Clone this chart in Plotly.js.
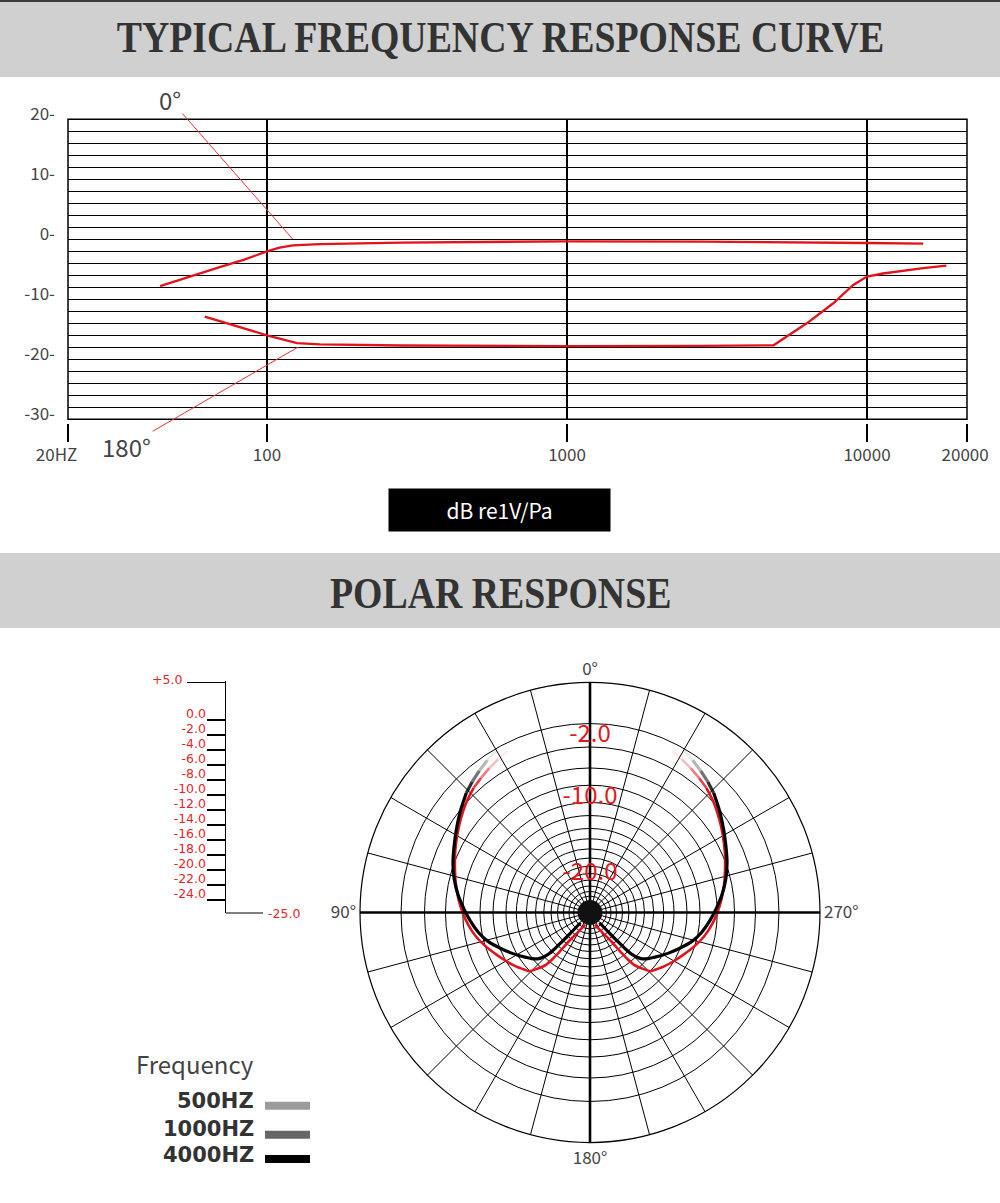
<!DOCTYPE html>
<html><head><meta charset="utf-8">
<script src="https://cdn.plot.ly/plotly-3.0.1.min.js"></script>
<style>html,body{margin:0;padding:0;background:#fff;overflow:hidden}#chart{width:1000px;height:1203px}</style>
</head><body><div id="chart"></div>
<script>
// ---------- Frequency response data ----------
const freq0   = [44, 55, 70, 84, 100, 110, 122, 150, 280, 1000, 2800, 10000, 15400];
const db0     = [-7.8, -6.2, -4.6, -3.4, -2.0, -1.4, -1.0, -0.8, -0.55, -0.33, -0.4, -0.62, -0.73];
const freq180 = [62, 77, 100, 126, 150, 280, 1000, 2800, 4880, 5400, 6300, 7700, 9000, 10000, 11300, 15400, 18400];
const db180   = [-12.9, -14.3, -16.0, -17.3, -17.5, -17.7, -17.8, -17.75, -17.67, -16.2, -14.0, -10.7, -7.6, -6.2, -5.7, -4.8, -4.4];
const freqTickText = ['20HZ', '100', '1000', '10000', '20000'];
const dbTickVals = [-30, -20, -10, 0, 10, 20];
const dbTickText = ['-30-', '-20-', '-10-', '0-', '10-', '20-'];
const callout0   = {f: 122, db: 0, text: '0°'};
const callout180 = {f: 126.6, db: -18, text: '180°'};

// ---------- Polar response data (left half; mirrored) ----------
const blackTheta = [30,34,38,42,46,52,58,64,70,76,82,88,94,100,106,112,117,121,125,128.5,131.5,133.5,135,135.8,136.3,136.7,137];
const blackDb    = [-0.58,-1.05,-1.55,-2.04,-2.57,-3.54,-4.46,-5.28,-5.98,-6.74,-7.59,-8.50,-9.35,-10.20,-11.20,-12.45,-13.40,-14.12,-14.80,-15.33,-15.87,-16.52,-17.30,-18.48,-19.78,-21.35,-23.17];
const redTheta   = [27,31,35,39,43,48,54,60,66,72,78,84,90,96,102,108,114,120,126,131,134,137,140,141,142,144,148,153,158];
const redDb      = [-1.35,-1.71,-2.06,-2.41,-2.76,-3.35,-4.18,-4.98,-5.74,-6.48,-7.11,-7.74,-8.38,-9.07,-9.82,-10.70,-11.59,-12.35,-13.05,-13.65,-13.98,-15.0,-16.13,-17.04,-18.22,-20.57,-21.87,-22.78,-23.30];
const ringDb     = [-0.35,-3.41,-6.15,-8.40,-10.65,-12.35,-14.04,-15.39,-16.69,-17.89,-18.96,-19.91,-20.76,-21.54,-22.26,-22.85];
const spokeDeg   = [0,15,30,45,60,75,90,105,120,135,150,165,180,195,210,225,240,255,270,285,300,315,330,345];
const cardinalText = {0:'0°', 90:'90°', 180:'180°', 270:'270°'};
const polarLabelDb = [-2, -10, -20];
const polarLabelText = ['-2.0', '-10.0', '-20.0'];
const rulerVals = [0,-2,-4,-6,-8,-10,-12,-14,-16,-18,-20,-22,-24];
const rulerText = ['0.0','-2.0','-4.0','-6.0','-8.0','-10.0','-12.0','-14.0','-16.0','-18.0','-20.0','-22.0','-24.0'];
const rulerTop = '+5.0', rulerBottom = '-25.0';
const legendLabels = ['500HZ', '1000HZ', '4000HZ'];
const legendColors = ['#9b9b9b', '#666666', '#000000'];

// ---------- helpers ----------
const W = 1000, H = 1203;
const px = x => x / W;
const py = y => 1 - y / H;
const SANS = "'Noto Sans CJK SC', 'Noto Sans', sans-serif";
const SMALL = "'DejaVu Sans', sans-serif";
const SERIF = "'Liberation Serif', 'Times New Roman', serif";
const RED = '#e3121b';
const FADE = [0.08, 0.28, 0.55, 0.82];

const xRange = [2 - 199/300, 4 + 100/300];
const xTickVals = [Math.pow(10, xRange[0]), 100, 1000, 10000, Math.pow(10, xRange[1])];
const xTickText = freqTickText.map((t, i) => i === 0 ? t + '\u00a0\u00a0\u00a0\u00a0\u00a0\u00a0' : (i === 4 ? t + '\u00a0' : t));

const traces = [];
traces.push({type:'scatter', x:freq0, y:db0, mode:'lines', line:{color:RED, width:2.3}, hoverinfo:'skip', showlegend:false});
traces.push({type:'scatter', x:freq180, y:db180, mode:'lines', line:{color:RED, width:2.3}, hoverinfo:'skip', showlegend:false});

// ruler dummy
traces.push({type:'scatter', x:[0.5], y:[0], xaxis:'x2', yaxis:'y2', mode:'markers', marker:{opacity:0}, hoverinfo:'skip', showlegend:false});

// polar curves with faded upper ends
function addCurve(theta, db, rgb, width) {
  [1, -1].forEach(side => {
    const th = theta.map(t => side > 0 ? t : 360 - t);
    for (let i = 0; i < FADE.length; i++) {
      traces.push({type:'scatterpolar', r:db.slice(i, i+2), theta:th.slice(i, i+2), mode:'lines',
        line:{color:'rgba(' + rgb + ',' + FADE[i] + ')', width:width}, hoverinfo:'skip', showlegend:false});
    }
    traces.push({type:'scatterpolar', r:db.slice(FADE.length), theta:th.slice(FADE.length), mode:'lines',
      line:{color:'rgb(' + rgb + ')', width:width, shape:'spline', smoothing:0.8}, hoverinfo:'skip', showlegend:false});
  });
}
addCurve(redTheta, redDb, '227,18,27', 2.6);
addCurve(blackTheta, blackDb, '0,0,0', 3.2);

// thick cross axes
traces.push({type:'scatterpolar', r:[5,-25,5], theta:[0,0,180], mode:'lines', line:{color:'#000', width:2.6}, hoverinfo:'skip', showlegend:false});
traces.push({type:'scatterpolar', r:[5,-25,5], theta:[90,90,270], mode:'lines', line:{color:'#000', width:2.6}, hoverinfo:'skip', showlegend:false});
// ring labels
traces.push({type:'scatterpolar', r:polarLabelDb, theta:polarLabelDb.map(() => 0), mode:'text', text:polarLabelText,
  textfont:{family:SANS, size:24, color:'#e8141c'}, textposition:'middle center', cliponaxis:false, hoverinfo:'skip', showlegend:false});
// centre dot
traces.push({type:'scatterpolar', r:[-25], theta:[0], mode:'markers', marker:{size:25, color:'#111'}, cliponaxis:false, hoverinfo:'skip', showlegend:false});

const TITLE1 = 'TYPICAL FREQUENCY RESPONSE CURVE', TITLE2 = 'POLAR RESPONSE';
const annotations = [
  {xref:'paper', yref:'paper', x:0.5, y:py(38), text:TITLE1, showarrow:false,
   font:{family:SERIF, size:44, color:'#333', weight:'bold'}, xanchor:'center', yanchor:'middle'},
  {xref:'paper', yref:'paper', x:0.5, y:py(593), text:TITLE2, showarrow:false,
   font:{family:SERIF, size:44, color:'#333', weight:'bold'}, xanchor:'center', yanchor:'middle'},
  {xref:'x', yref:'y', x:Math.log10(callout0.f), y:callout0.db, text:callout0.text, showarrow:true, arrowhead:0,
   arrowwidth:1, arrowcolor:'#e8333a', ax:-123, ay:-140, standoff:0, font:{family:SANS, size:24, color:'#444'}},
  {xref:'x', yref:'y', x:Math.log10(callout180.f), y:callout180.db, text:callout180.text, showarrow:true, arrowhead:0,
   arrowwidth:1, arrowcolor:'#e8333a', ax:-171, ay:99, standoff:0, font:{family:SANS, size:24, color:'#444'}},
  {xref:'paper', yref:'paper', x:px(499.5), y:py(510), text:'dB re1V/Pa', showarrow:false, bgcolor:'#000',
   width:221, height:42, borderpad:0, font:{family:SANS, size:21, color:'#fff'}, xanchor:'center', yanchor:'middle'},
  {xref:'paper', yref:'y2', x:px(184), y:5, text:rulerTop, showarrow:false, xanchor:'right', yanchor:'middle', yshift:3,
   font:{family:SMALL, size:12.5, color:'#e5262d'}},
  {xref:'paper', yref:'y2 domain', x:px(266), y:0, text:rulerBottom, showarrow:false, xanchor:'left', yanchor:'middle',
   font:{family:SMALL, size:12.5, color:'#e5262d'}},
  {xref:'paper', yref:'paper', x:px(256), y:py(1063), text:'Frequency', showarrow:false, xanchor:'right', yanchor:'middle',
   font:{family:SANS, size:24, color:'#444'}}
];
const shapes = [
  {type:'rect', xref:'paper', yref:'paper', x0:0, x1:1, y0:py(77), y1:1, fillcolor:'#d0d0d0', line:{width:0}, layer:'below'},
  {type:'line', xref:'paper', yref:'paper', x0:0, x1:1, y0:py(1), y1:py(1), line:{color:'#3a3a3a', width:2}},
  {type:'rect', xref:'paper', yref:'paper', x0:0, x1:1, y0:py(628), y1:py(553), fillcolor:'#d0d0d0', line:{width:0}, layer:'below'},
  {type:'rect', xref:'x domain', yref:'y domain', x0:0, x1:1, y0:0, y1:1, line:{color:'#000', width:1.5}},
  {type:'line', xref:'paper', yref:'y2', x0:px(187), x1:px(225.7), y0:5, y1:5, line:{color:'#000', width:1.2}},
  {type:'line', xref:'paper', yref:'y2 domain', x0:px(225.7), x1:px(263), y0:0, y1:0, line:{color:'#000', width:1.2}}
];
const rowY = [1101, 1129, 1155];
const swatchTop = [1101.7, 1130.7, 1155];
legendLabels.forEach((lab, i) => {
  annotations.push({xref:'paper', yref:'paper', x:px(256), y:py(rowY[i]), text:lab, showarrow:false, xanchor:'right', yanchor:'middle',
    font:{family:SMALL, size:21, color:'#333', weight:'bold'}});
  shapes.push({type:'rect', xref:'paper', yref:'paper', x0:px(265), x1:px(310), y0:py(swatchTop[i] + 8), y1:py(swatchTop[i]),
    fillcolor:legendColors[i], line:{width:0}});
});

const layout = {
  width:W, height:H, margin:{l:0, r:0, t:0, b:0}, paper_bgcolor:'#fff', plot_bgcolor:'#fff', showlegend:false,
  xaxis:{type:'log', range:xRange, domain:[px(68), px(967)], anchor:'free', position:py(422.5),
    tickmode:'array', tickvals:xTickVals, ticktext:xTickText, ticks:'outside', ticklen:18, tickwidth:1.5, tickcolor:'#000',
    showgrid:true, gridcolor:'#000', gridwidth:1.5, showline:false, zeroline:false,
    tickfont:{family:SANS, size:17, color:'#444'}, ticklabelstandoff:-1},
  yaxis:{range:[-30, 20], domain:[py(419.3), py(119.3)], anchor:'x', tickmode:'array', tickvals:dbTickVals, ticktext:dbTickText,
    ticks:'', showgrid:true, gridcolor:'#000', gridwidth:1.5,
    minor:{dtick:2, tick0:0, showgrid:true, gridcolor:'#000', gridwidth:1.5, ticks:''},
    zeroline:false, showline:false, tickfont:{family:SANS, size:17, color:'#444'}, ticklabelstandoff:12, ticklabelshift:-5},
  xaxis2:{domain:[px(225.7), px(300)], anchor:'y2', visible:false, range:[0, 1]},
  yaxis2:{domain:[py(913), py(681)], anchor:'x2', range:[-25.73, 5.2], tickmode:'array', tickvals:rulerVals, ticktext:rulerText,
    ticks:'outside', ticklen:18, tickwidth:1.2, tickcolor:'#000', showline:true, linecolor:'#000', linewidth:1.2,
    showgrid:false, zeroline:false, tickfont:{family:SMALL, size:12.5, color:'#e5262d'}, ticklabelstandoff:-2, ticklabelshift:-6},
  polar:{domain:{x:[px(360), px(820)], y:[py(1142.5), py(682.5)]}, bgcolor:'#fff',
    radialaxis:{range:[-25, 5], tickmode:'array', tickvals:ringDb, showticklabels:false, ticks:'', showline:false,
      gridcolor:'#000', gridwidth:1},
    angularaxis:{rotation:90, direction:'counterclockwise', tickmode:'array', tickvals:spokeDeg,
      ticktext:spokeDeg.map(d => cardinalText[d] || ''), ticks:'', showline:true, linecolor:'#000', linewidth:1.2,
      gridcolor:'#000', gridwidth:1, tickfont:{family:SANS, size:17, color:'#444'}}},
  annotations:annotations, shapes:shapes
};
Plotly.newPlot('chart', traces, layout, {staticPlot:true, displayModeBar:false}).then(gd => {
  // condensed look of the banner titles
  gd.querySelectorAll('.annotation-text').forEach(t => {
    if (t.textContent === TITLE1 || t.textContent === TITLE2) {
      t.style.transformBox = 'fill-box';
      t.style.transformOrigin = 'center';
      t.style.transform = 'scaleX(0.86)';
    }
  });
});
</script></body></html>
